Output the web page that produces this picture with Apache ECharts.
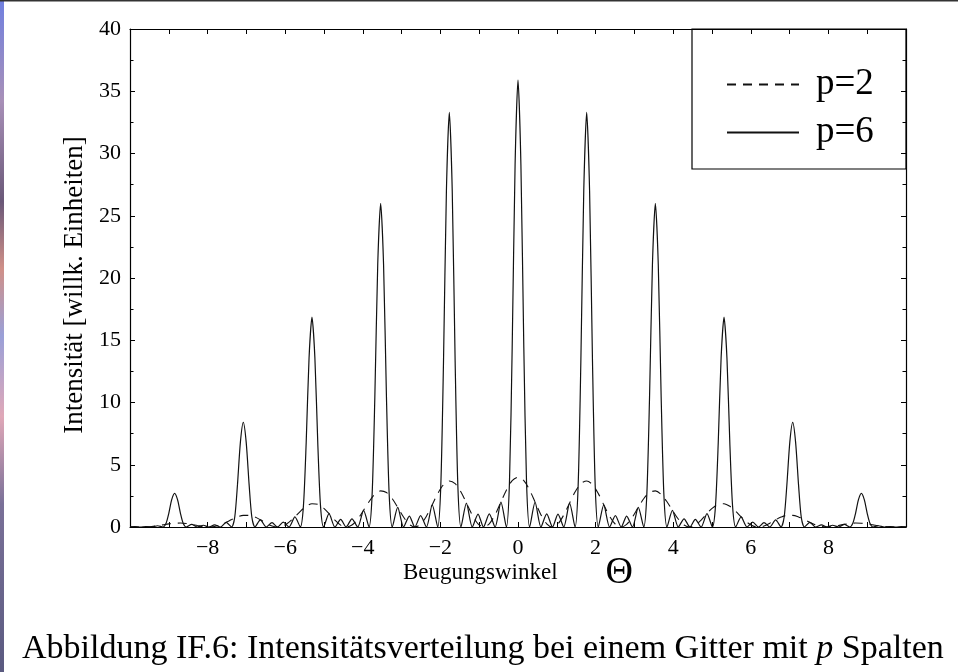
<!DOCTYPE html>
<html>
<head>
<meta charset="utf-8">
<title>Intensitätsverteilung Gitter</title>
<script src="https://cdn.jsdelivr.net/npm/echarts@6/dist/echarts.min.js"></script>
<style>
  html, body { margin: 0; padding: 0; background: #fff; }
  #chart { width: 958px; height: 672px; }
</style>
</head>
<body>
<div id="chart"></div>
<script>
// Werte: [Beugungswinkel, Intensitaet]
var seriesNames = ['p=2', 'p=6'];

// p=6 (durchgezogen)
var p6Points = [
    [-10, 0], [-9.88, 0.03], [-9.74, 0], [-9.59, 0.04], [-9.44, 0], [-9.29, 0.10], [-9.15, 0],
    [-9.07, 0.3], [-9.00, 1.1], [-8.925, 2.2], [-8.85, 2.7], [-8.775, 2.2], [-8.70, 1.1], [-8.63, 0.3], [-8.55, 0],
    [-8.41, 0.21], [-8.26, 0], [-8.11, 0.14], [-7.97, 0], [-7.82, 0.17], [-7.67, 0], [-7.52, 0.37], [-7.38, 0],
    [-7.30, 0.8], [-7.23, 3.4], [-7.155, 6.8], [-7.08, 8.4], [-7.005, 6.8], [-6.93, 3.4], [-6.86, 0.8], [-6.78, 0],
    [-6.64, 0.57], [-6.49, 0], [-6.34, 0.35], [-6.20, 0], [-6.05, 0.39], [-5.90, 0], [-5.75, 0.81], [-5.61, 0],
    [-5.53, 1.7], [-5.46, 6.7], [-5.385, 13.6], [-5.31, 16.85], [-5.235, 13.6], [-5.16, 6.7], [-5.09, 1.7], [-5.01, 0],
    [-4.87, 1.07], [-4.72, 0], [-4.57, 0.62], [-4.43, 0], [-4.28, 0.66], [-4.13, 0], [-3.98, 1.33], [-3.84, 0],
    [-3.76, 2.6], [-3.69, 10.4], [-3.615, 21.1], [-3.54, 26.0], [-3.465, 21.1], [-3.39, 10.4], [-3.32, 2.6], [-3.24, 0],
    [-3.10, 1.57], [-2.95, 0], [-2.80, 0.88], [-2.66, 0], [-2.51, 0.91], [-2.36, 0], [-2.21, 1.77], [-2.07, 0],
    [-1.99, 3.3], [-1.92, 13.3], [-1.845, 27.0], [-1.77, 33.3], [-1.695, 27.0], [-1.62, 13.3], [-1.55, 3.3], [-1.47, 0],
    [-1.33, 1.91], [-1.18, 0], [-1.03, 1.04], [-0.89, 0], [-0.74, 1.06], [-0.59, 0], [-0.44, 1.99], [-0.30, 0],
    [-0.22, 3.6], [-0.15, 14.4], [-0.075, 29.1], [0, 35.9], [0.075, 29.1], [0.15, 14.4], [0.22, 3.6], [0.30, 0],
    [0.44, 1.99], [0.59, 0], [0.74, 1.06], [0.89, 0], [1.03, 1.04], [1.18, 0], [1.33, 1.91], [1.47, 0],
    [1.55, 3.3], [1.62, 13.3], [1.695, 27.0], [1.77, 33.3], [1.845, 27.0], [1.92, 13.3], [1.99, 3.3], [2.07, 0],
    [2.21, 1.77], [2.36, 0], [2.51, 0.91], [2.66, 0], [2.80, 0.88], [2.95, 0], [3.10, 1.57], [3.24, 0],
    [3.32, 2.6], [3.39, 10.4], [3.465, 21.1], [3.54, 26.0], [3.615, 21.1], [3.69, 10.4], [3.76, 2.6], [3.84, 0],
    [3.98, 1.33], [4.13, 0], [4.28, 0.66], [4.43, 0], [4.57, 0.62], [4.72, 0], [4.87, 1.07], [5.01, 0],
    [5.09, 1.7], [5.16, 6.7], [5.235, 13.6], [5.31, 16.85], [5.385, 13.6], [5.46, 6.7], [5.53, 1.7], [5.61, 0],
    [5.75, 0.81], [5.90, 0], [6.05, 0.39], [6.20, 0], [6.34, 0.35], [6.49, 0], [6.64, 0.57], [6.78, 0],
    [6.86, 0.8], [6.93, 3.4], [7.005, 6.8], [7.08, 8.4], [7.155, 6.8], [7.23, 3.4], [7.30, 0.8], [7.38, 0],
    [7.52, 0.37], [7.67, 0], [7.82, 0.17], [7.97, 0], [8.11, 0.14], [8.26, 0], [8.41, 0.21], [8.55, 0],
    [8.63, 0.3], [8.70, 1.1], [8.775, 2.2], [8.85, 2.7], [8.925, 2.2], [9.00, 1.1], [9.07, 0.3], [9.15, 0],
    [9.29, 0.10], [9.44, 0], [9.59, 0.04], [9.74, 0], [9.88, 0.03], [10, 0]
];

// p=2 (gestrichelt)
var p2Points = [
    [-10, 0.02], [-9.88, 0.01], [-9.735, 0], [-9.59, 0.01], [-9.44, 0.04], [-9.29, 0.10], [-9.15, 0.17], [-9.00, 0.25],
    [-8.85, 0.30], [-8.70, 0.32], [-8.55, 0.28], [-8.41, 0.21], [-8.26, 0.12], [-8.11, 0.03], [-7.965, 0],
    [-7.82, 0.04], [-7.67, 0.17], [-7.52, 0.38], [-7.38, 0.60], [-7.23, 0.81], [-7.08, 0.93], [-6.93, 0.93],
    [-6.78, 0.80], [-6.64, 0.58], [-6.49, 0.31], [-6.34, 0.08], [-6.195, 0],
    [-6.05, 0.09], [-5.90, 0.39], [-5.75, 0.82], [-5.61, 1.26], [-5.46, 1.66], [-5.31, 1.87], [-5.16, 1.82],
    [-5.01, 1.52], [-4.87, 1.08], [-4.72, 0.56], [-4.57, 0.15], [-4.425, 0],
    [-4.28, 0.16], [-4.13, 0.64], [-3.98, 1.34], [-3.84, 2.03], [-3.69, 2.62], [-3.54, 2.90], [-3.39, 2.77],
    [-3.24, 2.27], [-3.10, 1.58], [-2.95, 0.80], [-2.80, 0.21], [-2.655, 0],
    [-2.51, 0.22], [-2.36, 0.87], [-2.21, 1.79], [-2.07, 2.68], [-1.92, 3.40], [-1.77, 3.70], [-1.62, 3.48],
    [-1.47, 2.81], [-1.33, 1.93], [-1.18, 0.97], [-1.03, 0.25], [-0.885, 0],
    [-0.74, 0.26], [-0.59, 0.99], [-0.44, 2.01], [-0.30, 2.96], [-0.15, 3.72], [0, 4.0], [0.15, 3.72],
    [0.30, 2.96], [0.44, 2.01], [0.59, 0.99], [0.74, 0.26], [0.885, 0],
    [1.03, 0.25], [1.18, 0.97], [1.33, 1.93], [1.47, 2.81], [1.62, 3.48], [1.77, 3.70], [1.92, 3.40],
    [2.07, 2.68], [2.21, 1.79], [2.36, 0.87], [2.51, 0.22], [2.655, 0],
    [2.80, 0.21], [2.95, 0.80], [3.10, 1.58], [3.24, 2.27], [3.39, 2.77], [3.54, 2.90], [3.69, 2.62],
    [3.84, 2.03], [3.98, 1.34], [4.13, 0.64], [4.28, 0.16], [4.425, 0],
    [4.57, 0.15], [4.72, 0.56], [4.87, 1.08], [5.01, 1.52], [5.16, 1.82], [5.31, 1.87], [5.46, 1.66],
    [5.61, 1.26], [5.75, 0.82], [5.90, 0.39], [6.05, 0.09], [6.195, 0],
    [6.34, 0.08], [6.49, 0.31], [6.64, 0.58], [6.78, 0.80], [6.93, 0.93], [7.08, 0.93], [7.23, 0.81],
    [7.38, 0.60], [7.52, 0.38], [7.67, 0.17], [7.82, 0.04], [7.965, 0],
    [8.11, 0.03], [8.26, 0.12], [8.41, 0.21], [8.55, 0.28], [8.70, 0.32], [8.85, 0.30], [9.00, 0.25],
    [9.15, 0.17], [9.29, 0.10], [9.44, 0.04], [9.59, 0.01], [9.735, 0], [9.88, 0.01], [10, 0.02]
];

var xTickLabels = ['−8', '−6', '−4', '−2', '0', '2', '4', '6', '8'];

var serif = '"Liberation Serif", "DejaVu Serif", serif';

function xLabel(v) {
    if (v % 2 !== 0 || Math.abs(v) >= 10) {
        return '';
    }
    return xTickLabels[(v + 8) / 2];
}

var axisLine = { show: true, onZero: false, lineStyle: { color: '#000', width: 1.2 } };
var tick = { show: true, inside: true, length: 5, lineStyle: { color: '#000', width: 1 } };
var minor = { show: true, splitNumber: 2, length: 3.5, lineStyle: { color: '#000', width: 1 } };

var myChart = echarts.init(document.getElementById('chart'), null, { renderer: 'canvas' });

var option = {
    backgroundColor: '#fff',
    animation: false,
    grid: { left: 130, right: 52, top: 29, bottom: 145, containLabel: false },
    legend: {
        data: seriesNames,
        orient: 'vertical',
        left: 721,
        top: 61,
        itemWidth: 72,
        itemHeight: 14,
        itemGap: 11,
        selectedMode: false,
        itemStyle: { opacity: 0 },
        textStyle: {
            fontFamily: serif,
            fontSize: 37,
            color: '#000',
            lineHeight: 36,
            padding: [0, 0, 0, 12]
        }
    },
    xAxis: [{
        type: 'value',
        position: 'bottom',
        min: -10,
        max: 10,
        interval: 1,
        axisLine: axisLine,
        axisTick: tick,
        splitLine: { show: false },
        axisLabel: {
            formatter: xLabel,
            fontFamily: serif,
            fontSize: 22,
            color: '#000',
            margin: 10
        },
        name: '{a|Beugungswinkel}{b|Θ}',
        nameLocation: 'middle',
        nameGap: 27,
        nameMoveOverlap: false,
        nameTextStyle: {
            rich: {
                a: { fontFamily: serif, fontSize: 23, color: '#000' },
                b: { fontFamily: serif, fontSize: 38, color: '#000', padding: [0, 0, 0, 48] }
            }
        }
    }, {
        type: 'value',
        position: 'top',
        min: -10,
        max: 10,
        interval: 1,
        axisLine: axisLine,
        axisTick: tick,
        axisLabel: { show: false },
        splitLine: { show: false }
    }],
    yAxis: [{
        type: 'value',
        position: 'left',
        min: 0,
        max: 40,
        interval: 5,
        axisLine: axisLine,
        axisTick: tick,
        minorTick: minor,
        splitLine: { show: false },
        axisLabel: {
            fontFamily: serif,
            fontSize: 22,
            color: '#000',
            margin: 9
        },
        name: 'Intensität [willk. Einheiten]',
        nameLocation: 'middle',
        nameGap: 41,
        nameTextStyle: {
            fontFamily: serif,
            fontSize: 27,
            color: '#000',
            padding: [0, 14, 0, 0]
        }
    }, {
        type: 'value',
        position: 'right',
        min: 0,
        max: 40,
        interval: 5,
        axisLine: axisLine,
        axisTick: tick,
        minorTick: minor,
        axisLabel: { show: false },
        splitLine: { show: false }
    }],
    series: [{
        name: seriesNames[0],
        type: 'line',
        data: p2Points,
        symbol: 'none',
        smooth: 0.3,
        lineStyle: { color: '#111', width: 1.1, type: [9, 7] },
        itemStyle: { color: '#111' },
        z: 2
    }, {
        name: seriesNames[1],
        type: 'line',
        data: p6Points,
        symbol: 'none',
        smooth: 0.25,
        lineStyle: { color: '#111', width: 1.2 },
        itemStyle: { color: '#111' },
        z: 3
    }],
    graphic: [{
        type: 'rect',
        shape: { x: 692, y: 29, width: 214, height: 140 },
        style: { fill: 'none', stroke: '#000', lineWidth: 1.2 },
        z: 10
    }, {
        type: 'text',
        left: 22,
        top: 632,
        style: {
            text: '{n|Abbildung IF.6: Intensitätsverteilung bei einem Gitter mit }{i|p}{n| Spalten}',
            rich: {
                n: { fontFamily: serif, fontSize: 34, fill: '#000' },
                i: { fontFamily: serif, fontSize: 34, fontStyle: 'italic', fill: '#000' }
            }
        }
    }, {
        // Farbstreifen am linken Bildrand (Screenshot-Rest)
        type: 'rect',
        shape: { x: 0, y: 0, width: 4, height: 672 },
        style: {
            fill: new echarts.graphic.LinearGradient(0, 0, 0, 1, [
                { offset: 0, color: '#7080e0' },
                { offset: 0.15, color: '#a890b8' },
                { offset: 0.3, color: '#6a5878' },
                { offset: 0.4, color: '#d09088' },
                { offset: 0.5, color: '#9aa0d8' },
                { offset: 0.62, color: '#e0a8b8' },
                { offset: 0.75, color: '#7a7098' },
                { offset: 1, color: '#5a5a80' }
            ])
        }
    }, {
        type: 'rect',
        shape: { x: 0, y: 0, width: 958, height: 1.5 },
        style: { fill: '#333' }
    }]
};

myChart.setOption(option);
</script>
</body>
</html>
